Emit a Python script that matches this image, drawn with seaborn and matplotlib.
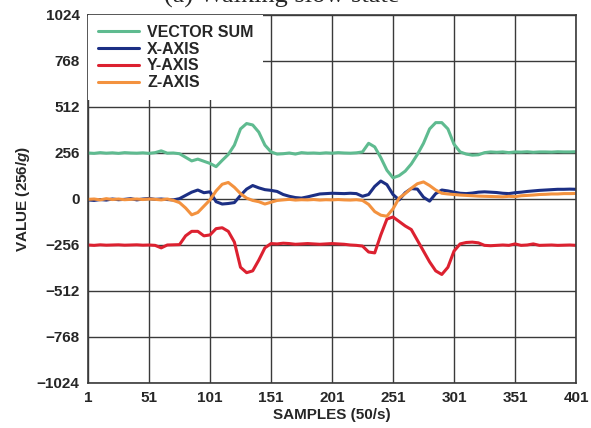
import numpy as np
import pandas as pd
import matplotlib
matplotlib.use('Agg')
import matplotlib.pyplot as plt
import seaborn as sns

# 采样点（每5个采样读一次值）
samples = list(range(1, 402, 5))

vector_sum = [256, 254, 258, 255, 257, 254, 258, 256, 255, 257, 254, 258, 268, 255, 256, 252,
              232, 212, 222, 210, 198, 180, 215, 248, 300, 390, 420, 412, 372, 300, 262, 250,
              252, 256, 250, 258, 255, 256, 254, 257, 255, 258, 256, 255, 257, 262, 310, 290,
              230, 160, 118, 130, 155, 195, 248, 310, 390, 425, 425, 390, 305, 262, 250, 244,
              246, 258, 262, 260, 262, 258, 262, 261, 263, 260, 262, 262, 261, 263, 262, 262, 263]

x_axis = [-5, -8, -3, -6, 0, -4, -2, 2, -5, 0, 3, -2, 0, -3, -5, 2,
          20, 38, 50, 35, 40, -15, -28, -25, -20, 20, 55, 75, 62, 52, 48, 42,
          25, 15, 8, 5, 12, 20, 28, 30, 32, 31, 30, 32, 30, 15, 25, 70,
          100, 80, 25, -5, 35, 58, 55, 10, -12, 30, 50, 45, 38, 32, 30, 33,
          38, 40, 38, 36, 32, 30, 35, 38, 42, 45, 48, 50, 52, 54, 54, 55, 54]

y_axis = [-256, -258, -255, -257, -256, -255, -257, -256, -255, -257, -256, -258, -272, -256, -255, -254,
          -205, -180, -180, -205, -200, -165, -160, -180, -240, -380, -410, -400, -340, -272, -248, -250,
          -246, -248, -252, -250, -248, -250, -252, -250, -248, -250, -252, -256, -258, -262, -295, -300,
          -200, -112, -100, -125, -150, -170, -230, -290, -350, -400, -420, -380, -290, -250, -242, -240,
          -244, -258, -260, -258, -256, -258, -250, -258, -256, -250, -258, -257, -256, -258, -257, -256, -258]

z_axis = [-2, 0, -5, 2, -3, 0, -4, -2, 0, -3, 0, -2, -5, 0, -8, -20,
          -50, -88, -75, -40, -5, 45, 82, 92, 65, 30, 5, -8, -15, -28, -18, -8,
          -5, -2, -6, -4, -5, -3, -6, -4, -5, -3, -5, -6, -4, -8, -30, -70,
          -90, -96, -55, 5, 30, 60, 85, 95, 75, 50, 32, 28, 25, 22, 20, 18,
          16, 15, 14, 13, 12, 15, 13, 18, 20, 22, 25, 26, 28, 28, 30, 30, 31]

series_names = ['VECTOR SUM', 'X-AXIS', 'Y-AXIS', 'Z-AXIS']
colors = ['#5fbb90', '#1c2f84', '#dc2130', '#f3923f']

x_ticks = [1, 51, 101, 151, 201, 251, 301, 351, 401]
y_ticks = [-1024, -768, -512, -256, 0, 256, 512, 768, 1024]
y_tick_labels = ['\u22121024', '\u2212768', '\u2212512', '\u2212256', '0', '256', '512', '768', '1024']

df = pd.DataFrame({'SAMPLE': samples, 'VECTOR SUM': vector_sum, 'X-AXIS': x_axis,
                   'Y-AXIS': y_axis, 'Z-AXIS': z_axis})
df_long = df.melt(id_vars='SAMPLE', var_name='AXIS', value_name='VALUE')

sns.set_style('white')
plt.rcParams['font.family'] = ['Liberation Sans', 'DejaVu Sans']
plt.rcParams['font.weight'] = 'bold'
plt.rcParams['mathtext.fontset'] = 'custom'
plt.rcParams['mathtext.it'] = 'Liberation Sans:bold:italic'
plt.rcParams['mathtext.rm'] = 'Liberation Sans:bold'

fig = plt.figure(figsize=(5.91, 4.28), dpi=100)
ax = fig.add_axes([88 / 591, 1 - 383 / 428, 488 / 591, 368 / 428])

sns.lineplot(data=df_long, x='SAMPLE', y='VALUE', hue='AXIS', hue_order=series_names,
             palette=colors, linewidth=2.2, ax=ax)

ax.set_xlim(1, 401)
ax.set_ylim(-1024, 1024)
ax.set_xticks(x_ticks)
ax.set_yticks(y_ticks)
ax.set_yticklabels(y_tick_labels)
ax.tick_params(length=0, labelsize=11)
ax.tick_params(axis='x', pad=6)
ax.tick_params(axis='y', pad=6)
for lab in ax.get_xticklabels() + ax.get_yticklabels():
    lab.set_fontweight('bold')
ax.grid(True, color='#3a3a3a', linewidth=1.0)
ax.set_axisbelow(True)
for sp in ax.spines.values():
    sp.set_color('#3a3a3a')
    sp.set_linewidth(1.2)

ax.set_xlabel('SAMPLES (50/s)', fontsize=11, fontweight='bold', labelpad=2)
ax.set_ylabel('VALUE (256/$\\mathit{g}$)', fontsize=11, fontweight='bold', labelpad=3.5)

leg = ax.legend(loc='upper left', bbox_to_anchor=(0, 1), borderaxespad=0, frameon=True,
                fancybox=False, facecolor='white', edgecolor='white', framealpha=1,
                fontsize=11.5, handlelength=2.6, handletextpad=0.5, labelspacing=0.12,
                borderpad=0.6)
for t in leg.get_texts():
    t.set_fontweight('bold')
leg.get_frame().set_linewidth(0)
leg.set_zorder(5)

# 上方被裁掉一半的图注
fig.text(0.477, 1 - 3 / 428, '(a) Walking slow state', ha='center', va='baseline',
         fontsize=19, family=['Liberation Serif', 'DejaVu Serif'], fontweight='normal')

fig.savefig('out.png', dpi=100)
